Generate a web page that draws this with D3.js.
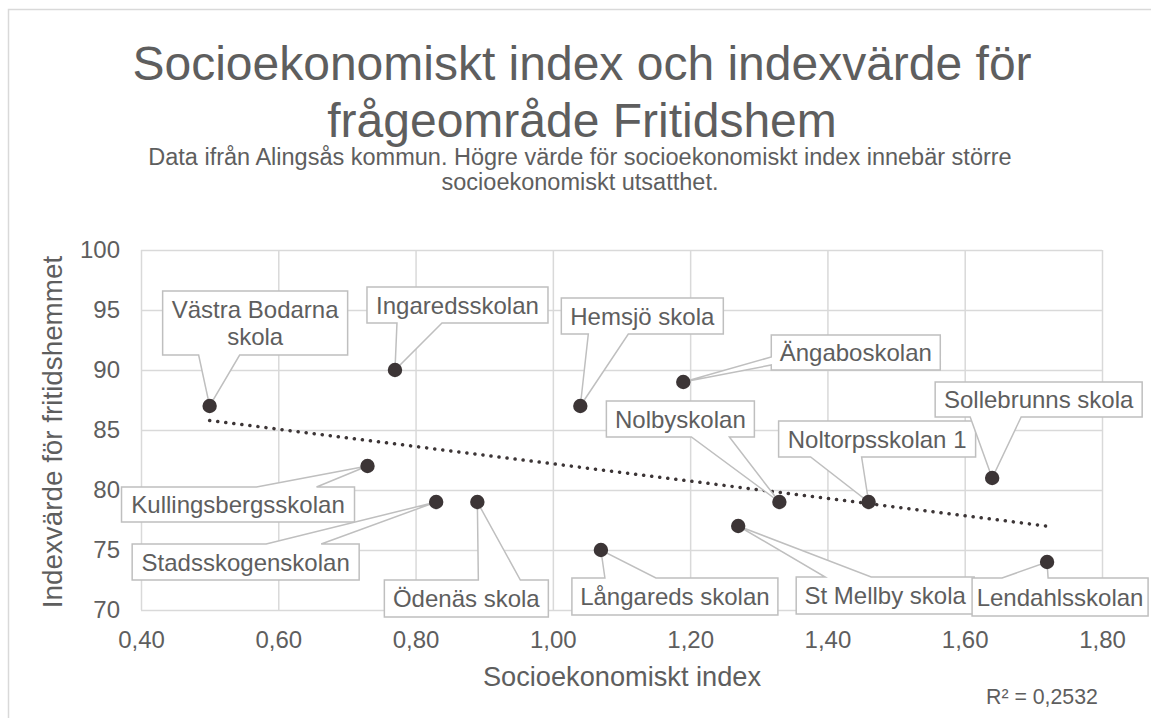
<!DOCTYPE html>
<html>
<head>
<meta charset="utf-8">
<script src="https://cdn.jsdelivr.net/npm/d3@7"></script>
<style>
  body { margin: 0; background: #fff; }
  text { font-family: 'Liberation Sans', Arial, sans-serif; fill: #5e5e5e; }
</style>
</head>
<body>
<div id="chart"></div>
<script>
// skolor och värden
const schools = ['Västra Bodarna skola', 'Ingaredsskolan', 'Hemsjö skola', 'Ängaboskolan',
    'Kullingsbergsskolan', 'Stadsskogenskolan', 'Ödenäs skola', 'Långareds skolan',
    'St Mellby skola', 'Nolbyskolan', 'Noltorpsskolan 1', 'Sollebrunns skola', 'Lendahlsskolan'];
const socioIndex = [0.50, 0.77, 1.04, 1.19, 0.73, 0.83, 0.89, 1.07, 1.27, 1.33, 1.46, 1.64, 1.72];
const fritidsValue = [87, 90, 87, 89, 82, 79, 79, 75, 77, 79, 79, 81, 74];

const xTicks = [0.4, 0.6, 0.8, 1.0, 1.2, 1.4, 1.6, 1.8];
const yTicks = [70, 75, 80, 85, 90, 95, 100];

// callout placement relative to the point (px): box offset, size, side of the pointer, pointer base
const callouts = [
    { dx: -47, dy: -115, w: 185, h: 64, side: 'bottom', b0: 36, b1: 77, lines: ['Västra Bodarna', 'skola'] },
    { dx: -28, dy: -83, w: 181, h: 36, side: 'bottom', b0: 30, b1: 75 },
    { dx: -19, dy: -108, w: 162, h: 36, side: 'bottom', b0: 27, b1: 67 },
    { dx: 88, dy: -47, w: 169, h: 35, side: 'left', b0: 22, b1: 30 },
    { dx: -246, dy: 21, w: 233, h: 35, side: 'top', b0: 135, b1: 195 },
    { dx: -304, dy: 42, w: 227, h: 36, side: 'top', b0: 134, b1: 189 },
    { dx: -93, dy: 78, w: 164, h: 37, side: 'top', b0: 94, b1: 136 },
    { dx: -29, dy: 28, w: 206, h: 37, side: 'top', b0: 33, b1: 84 },
    { dx: 58, dy: 51, w: 178, h: 37, side: 'top', b0: 29, b1: 75 },
    { dx: -173, dy: -101, w: 148, h: 36, side: 'bottom', b0: 85, b1: 123 },
    { dx: -90, dy: -81, w: 197, h: 36, side: 'bottom', b0: 32, b1: 83 },
    { dx: -57, dy: -96, w: 207, h: 35, side: 'bottom', b0: 35, b1: 86 },
    { dx: -75, dy: 16, w: 176, h: 38, side: 'top', b0: 30, b1: 76 }
];

const width = 1151, height = 718;
const plot = { left: 141, right: 1102, top: 250, bottom: 610 };

const locale = d3.formatLocale({ decimal: ',', thousands: ' ', grouping: [3], currency: ['', ' kr'] });

const svg = d3.select('#chart').append('svg')
    .attr('width', width)
    .attr('height', height);

svg.append('rect')
    .attr('width', width).attr('height', height)
    .attr('fill', '#fff');

// chart area border
svg.append('rect')
    .attr('x', 8.5).attr('y', 9.5)
    .attr('width', width + 20).attr('height', height + 20)
    .attr('fill', 'none')
    .attr('stroke', '#d9d9d9')
    .attr('stroke-width', 1.5);

const x = d3.scaleLinear().domain([0.4, 1.8]).range([plot.left, plot.right]);
const y = d3.scaleLinear().domain([70, 100]).range([plot.bottom, plot.top]);

// title
svg.append('text')
    .attr('x', 582).attr('y', 80)
    .attr('text-anchor', 'middle')
    .style('font-size', '48px')
    .selectAll('tspan')
    .data(['Socioekonomiskt index och indexvärde för', 'frågeområde Fritidshem'])
    .enter().append('tspan')
    .attr('x', 582)
    .attr('dy', (d, i) => i === 0 ? 0 : 57)
    .text(d => d);

svg.append('text')
    .attr('x', 580).attr('y', 165)
    .attr('text-anchor', 'middle')
    .style('font-size', '23.5px')
    .selectAll('tspan')
    .data(['Data ifrån Alingsås kommun. Högre värde för socioekonomiskt index innebär större', 'socioekonomiskt utsatthet.'])
    .enter().append('tspan')
    .attr('x', 580)
    .attr('dy', (d, i) => i === 0 ? 0 : 25)
    .text(d => d);

// axes + gridlines
const xAxis = svg.append('g')
    .attr('transform', `translate(0,${plot.bottom})`)
    .call(d3.axisBottom(x).tickValues(xTicks)
        .tickSizeInner(-(plot.bottom - plot.top)).tickSizeOuter(0)
        .tickPadding(21).tickFormat(locale.format('.2f')));

const yAxis = svg.append('g')
    .attr('transform', `translate(${plot.left},0)`)
    .call(d3.axisLeft(y).tickValues(yTicks)
        .tickSizeInner(-(plot.right - plot.left)).tickSizeOuter(0)
        .tickPadding(21).tickFormat(d3.format('d')));

[xAxis, yAxis].forEach(g => {
    g.select('.domain').remove();
    g.selectAll('.tick line').attr('stroke', '#d9d9d9').attr('stroke-width', 1.5);
    g.selectAll('.tick text')
        .attr('fill', '#5e5e5e')
        .style('font-size', '24px')
        .style('font-family', "'Liberation Sans', Arial, sans-serif");
});

svg.append('text')
    .attr('x', 622).attr('y', 686)
    .attr('text-anchor', 'middle')
    .style('font-size', '27.2px')
    .text('Socioekonomiskt index');

svg.append('text')
    .attr('transform', 'translate(62,432) rotate(-90)')
    .attr('text-anchor', 'middle')
    .style('font-size', '27.8px')
    .text('Indexvärde för fritidshemmet');

// linear trend (least squares)
const n = socioIndex.length;
const mx = d3.mean(socioIndex), my = d3.mean(fritidsValue);
let sxy = 0, sxx = 0, syy = 0;
for (let i = 0; i < n; i++) {
    sxy += (socioIndex[i] - mx) * (fritidsValue[i] - my);
    sxx += (socioIndex[i] - mx) ** 2;
    syy += (fritidsValue[i] - my) ** 2;
}
const slope = sxy / sxx;
const intercept = my - slope * mx;
const r2 = (sxy * sxy) / (sxx * syy);
const xExt = d3.extent(socioIndex);

svg.append('line')
    .attr('x1', x(xExt[0])).attr('y1', y(intercept + slope * xExt[0]))
    .attr('x2', x(xExt[1])).attr('y2', y(intercept + slope * xExt[1]))
    .attr('stroke', '#3c3536')
    .attr('stroke-width', 3.5)
    .attr('stroke-linecap', 'round')
    .attr('stroke-dasharray', '0.1 8');

svg.append('text')
    .attr('x', 986).attr('y', 704)
    .style('font-size', '21.3px')
    .text('R² = ' + locale.format('.4f')(r2));

// callouts
const points = schools.map((name, i) => ({ name, px: x(socioIndex[i]), py: y(fritidsValue[i]), c: callouts[i] }));

const calloutPath = d => {
    const { px, py, c } = d;
    const L = px + c.dx, T = py + c.dy, R = L + c.w, B = T + c.h;
    const p = [[L, T]];
    if (c.side === 'top') p.push([L + c.b0, T], [px, py], [L + c.b1, T]);
    p.push([R, T]);
    if (c.side === 'right') p.push([R, T + c.b0], [px, py], [R, T + c.b1]);
    p.push([R, B]);
    if (c.side === 'bottom') p.push([L + c.b1, B], [px, py], [L + c.b0, B]);
    p.push([L, B]);
    if (c.side === 'left') p.push([L, T + c.b1], [px, py], [L, T + c.b0]);
    return 'M' + p.map(q => q.join(',')).join('L') + 'Z';
};

const labels = svg.selectAll('.callout')
    .data(points)
    .enter().append('g')
    .attr('class', 'callout');

labels.append('path')
    .attr('d', calloutPath)
    .attr('fill', '#fff')
    .attr('stroke', '#bfbfbf')
    .attr('stroke-width', 1.5)
    .attr('stroke-linejoin', 'miter');

labels.each(function (d) {
    const lines = d.c.lines || [d.name];
    const cx = d.px + d.c.dx + d.c.w / 2;
    const cy = d.py + d.c.dy + d.c.h / 2;
    const t = d3.select(this).append('text')
        .attr('text-anchor', 'middle')
        .style('font-size', '24px');
    lines.forEach((s, i) => {
        t.append('tspan')
            .attr('x', cx)
            .attr('y', cy + 8.5 + (i - (lines.length - 1) / 2) * 27.5)
            .text(s);
    });
});

// points
svg.selectAll('.dot')
    .data(points)
    .enter().append('circle')
    .attr('class', 'dot')
    .attr('cx', d => d.px)
    .attr('cy', d => d.py)
    .attr('r', 7.2)
    .attr('fill', '#3c3536');
</script>
</body>
</html>
